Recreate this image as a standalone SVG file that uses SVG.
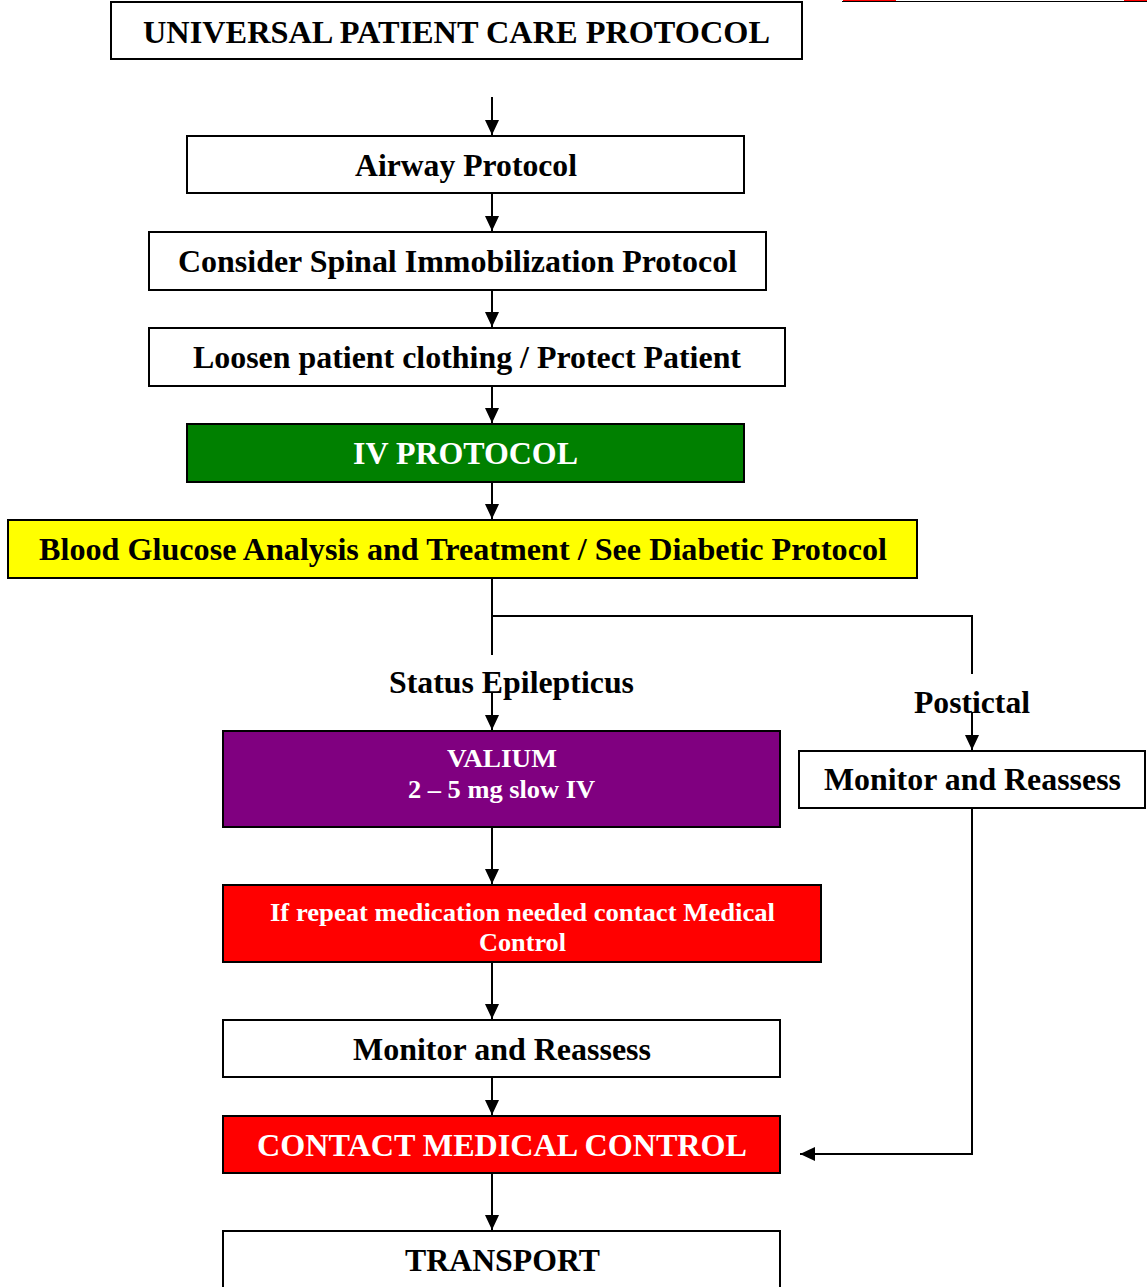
<svg xmlns="http://www.w3.org/2000/svg" width="1147" height="1287" viewBox="0 0 1147 1287">
  <defs>
    <style>
      .box { stroke: #000; stroke-width: 2; }
      .plain { fill: #fff; }
      .green { fill: #008000; }
      .yellow { fill: #ffff00; }
      .purple { fill: #800080; }
      .red { fill: #ff0000; }
      .lbl { font-family: "Liberation Serif", "Times New Roman", serif; font-weight: bold; font-size: 31px; fill: #000; }
      .sm { font-size: 26px; }
      .w { fill: #fff; }
      .wire { fill: none; stroke: #000; stroke-width: 2; }
    </style>
    <marker id="arrow" markerUnits="userSpaceOnUse" markerWidth="16" markerHeight="16" viewBox="0 0 16 16" refX="15" refY="8" orient="auto">
      <path d="M0,1 L15,8 L0,15 Z" fill="#000"/>
    </marker>
  </defs>

  <!-- partially visible header cell strip at the top right -->
  <g id="header-strip">
    <rect x="843" y="-1" width="53" height="2" class="red"/>
    <rect x="1124" y="-1" width="24" height="2" class="red"/>
    <line x1="842" y1="1.5" x2="1147" y2="1.5" stroke="#000" stroke-width="1.2"/>
  </g>

  <g id="connectors">
    <path class="wire" d="M492,97 V135" marker-end="url(#arrow)"/>
    <path class="wire" d="M492,193 V231" marker-end="url(#arrow)"/>
    <path class="wire" d="M492,290 V327" marker-end="url(#arrow)"/>
    <path class="wire" d="M492,386 V423" marker-end="url(#arrow)"/>
    <path class="wire" d="M492,482 V519" marker-end="url(#arrow)"/>
    <path class="wire" d="M492,578 V655"/>
    <path class="wire" d="M492,616 H972 V674"/>
    <path class="wire" d="M492,693 V730" marker-end="url(#arrow)"/>
    <path class="wire" d="M972,712 V750" marker-end="url(#arrow)"/>
    <path class="wire" d="M492,827 V884" marker-end="url(#arrow)"/>
    <path class="wire" d="M492,962 V1019" marker-end="url(#arrow)"/>
    <path class="wire" d="M492,1077 V1115" marker-end="url(#arrow)"/>
    <path class="wire" d="M972,808 V1154 H800" marker-end="url(#arrow)"/>
    <path class="wire" d="M492,1173 V1230" marker-end="url(#arrow)"/>
  </g>

  <g id="n-universal">
    <rect x="111" y="2" width="691" height="57" class="box plain"/>
    <text x="456.5" y="43" text-anchor="middle" class="lbl" textLength="627" lengthAdjust="spacingAndGlyphs">UNIVERSAL PATIENT CARE PROTOCOL</text>
  </g>

  <g id="n-airway">
    <rect x="187" y="136" width="557" height="57" class="box plain"/>
    <text x="466" y="176" text-anchor="middle" class="lbl" textLength="222" lengthAdjust="spacingAndGlyphs">Airway Protocol</text>
  </g>

  <g id="n-spinal">
    <rect x="149" y="232" width="617" height="58" class="box plain"/>
    <text x="457.5" y="272" text-anchor="middle" class="lbl" textLength="559" lengthAdjust="spacingAndGlyphs">Consider Spinal Immobilization Protocol</text>
  </g>

  <g id="n-loosen">
    <rect x="149" y="328" width="636" height="58" class="box plain"/>
    <text x="467" y="368" text-anchor="middle" class="lbl" textLength="548" lengthAdjust="spacingAndGlyphs">Loosen patient clothing / Protect Patient</text>
  </g>

  <g id="n-iv">
    <rect x="187" y="424" width="557" height="58" class="box green"/>
    <text x="465.5" y="464" text-anchor="middle" class="lbl w" textLength="225" lengthAdjust="spacingAndGlyphs">IV PROTOCOL</text>
  </g>

  <g id="n-glucose">
    <rect x="8" y="520" width="909" height="58" class="box yellow"/>
    <text x="463" y="560" text-anchor="middle" class="lbl" textLength="848" lengthAdjust="spacingAndGlyphs">Blood Glucose Analysis and Treatment / See Diabetic Protocol</text>
  </g>

  <g id="branch-labels">
    <text x="511.5" y="693" text-anchor="middle" class="lbl" textLength="245" lengthAdjust="spacingAndGlyphs">Status Epilepticus</text>
    <text x="972" y="713" text-anchor="middle" class="lbl" textLength="116" lengthAdjust="spacingAndGlyphs">Postictal</text>
  </g>

  <g id="n-monitor-right">
    <rect x="799" y="751" width="346" height="57" class="box plain"/>
    <text x="972.5" y="790" text-anchor="middle" class="lbl" textLength="297" lengthAdjust="spacingAndGlyphs">Monitor and Reassess</text>
  </g>

  <g id="n-valium">
    <rect x="223" y="731" width="557" height="96" class="box purple"/>
    <text x="502" y="767" text-anchor="middle" class="lbl sm w" textLength="110" lengthAdjust="spacingAndGlyphs">VALIUM</text>
    <text x="501.5" y="798" text-anchor="middle" class="lbl sm w" textLength="187" lengthAdjust="spacingAndGlyphs">2 – 5 mg slow IV</text>
  </g>

  <g id="n-repeat">
    <rect x="223" y="885" width="598" height="77" class="box red"/>
    <text x="522.5" y="921" text-anchor="middle" class="lbl sm w" textLength="505" lengthAdjust="spacingAndGlyphs">If repeat medication needed contact Medical</text>
    <text x="522.5" y="951" text-anchor="middle" class="lbl sm w" textLength="87" lengthAdjust="spacingAndGlyphs">Control</text>
  </g>

  <g id="n-monitor-left">
    <rect x="223" y="1020" width="557" height="57" class="box plain"/>
    <text x="502" y="1060" text-anchor="middle" class="lbl" textLength="298" lengthAdjust="spacingAndGlyphs">Monitor and Reassess</text>
  </g>

  <g id="n-contact">
    <rect x="223" y="1116" width="557" height="57" class="box red"/>
    <text x="502" y="1156" text-anchor="middle" class="lbl w" textLength="490" lengthAdjust="spacingAndGlyphs">CONTACT MEDICAL CONTROL</text>
  </g>

  <g id="n-transport">
    <rect x="223" y="1231" width="557" height="70" class="box plain"/>
    <text x="502.5" y="1271" text-anchor="middle" class="lbl" textLength="195" lengthAdjust="spacingAndGlyphs">TRANSPORT</text>
  </g>
</svg>
